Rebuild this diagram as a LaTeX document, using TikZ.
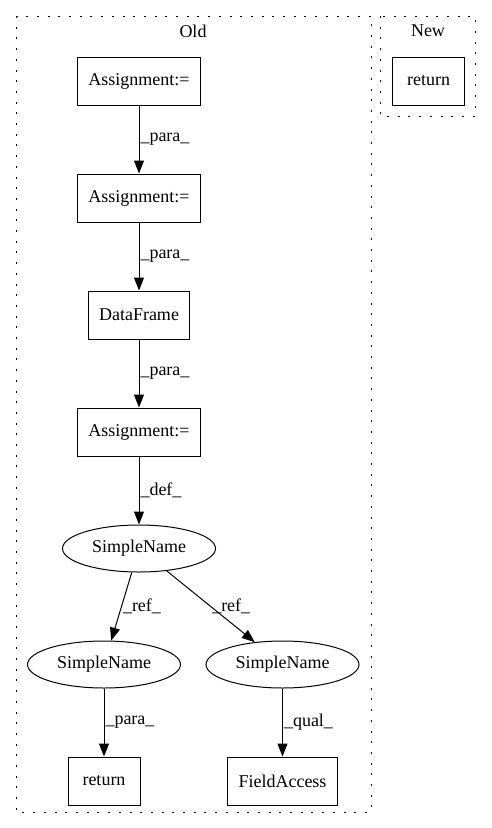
\documentclass[tikz,border=0pt]{standalone}
\usepackage{fontspec}
\setmainfont{Liberation Serif}
\usetikzlibrary{positioning,arrows.meta,shapes.geometric}
\tikzset{box/.style={rectangle,draw,line width=1pt,minimum width=72pt,minimum height=48pt,inner xsep=11pt},
	 oval/.style={ellipse,draw,line width=1pt,minimum width=153pt,minimum height=47pt,inner sep=0pt},
	 flow/.style={-{Triangle[length=13pt,width=10pt]},line width=1pt},
	 elabel/.style={right,inner sep=1pt,pos=0.5},
	 cluster/.style={draw,line width=1pt,dash pattern=on 2pt off 8.7pt},
	 every node/.style={font=\fontsize{18}{21}\selectfont},
	 node distance = 68pt
	 }

\begin{document}
\begin{tikzpicture} % Old / New clusters
        \useasboundingbox (0,0) rectangle (491pt,-828pt);
        \draw[cluster] (16pt,-16pt) rectangle (371pt,-812pt);
        \draw[cluster] (380pt,-16pt) rectangle (475pt,-116pt);
        \node (old) at (193pt,-31pt) {Old};
        \node (new) at (428pt,-31pt) {New};
        \node[box] (a1) at (139pt,-81pt) {Assignment:=};
        \node[box] (a2) [below=of a1] {Assignment:=};
        \node[box] (df) [below=of a2] {DataFrame};
        \node[box] (a3) [below=of df] {Assignment:=};
        \node[oval] (sn1) [below=of a3] {SimpleName};
        \node[oval] (sn2) [below=of sn1, xshift=-35pt] {SimpleName};
        \node[oval] (sn3) [below=of sn1, xshift=143.5pt] {SimpleName};
        \node[box] (ret) [below=of sn2] {return};
        \node[box] (fa) [below=of sn3] {FieldAccess};
        \node[box] (ret2) [right=191pt of a1] {return};
        \draw[flow] (a1) to node[elabel] {\_para\_} (a2);
        \draw[flow] (a2) to node[elabel] {\_para\_} (df);
        \draw[flow] (df) to node[elabel] {\_para\_} (a3);
        \draw[flow] (a3) to node[elabel] {\_def\_} (sn1);
        \draw[flow] (sn1) to node[elabel] {\_ref\_} (sn2);
        \draw[flow] (sn1) to node[elabel] {\_ref\_} (sn3);
        \draw[flow] (sn2) to node[elabel] {\_para\_} (ret);
        \draw[flow] (sn3) to node[elabel] {\_qual\_} (fa);
     \end{tikzpicture}
\end{document}
